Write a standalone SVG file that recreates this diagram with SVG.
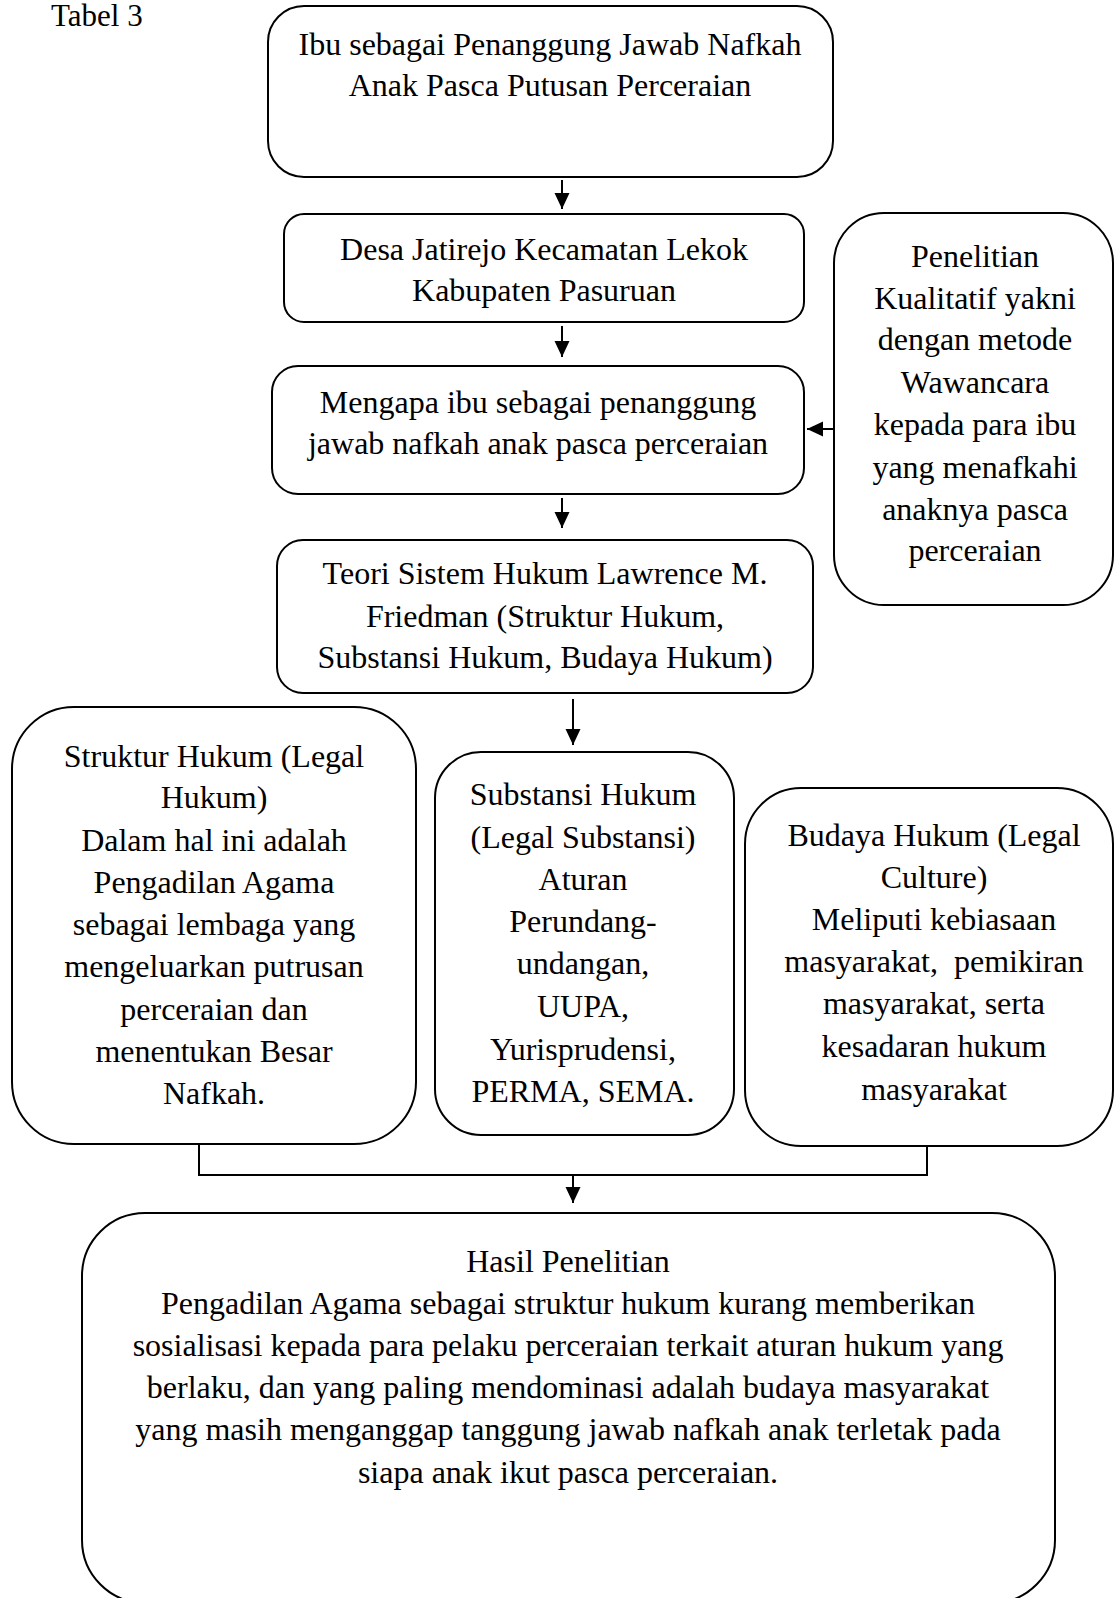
<svg xmlns="http://www.w3.org/2000/svg" width="1115" height="1598" viewBox="0 0 1115 1598">
<style>
.box{fill:#fff;stroke:#000;stroke-width:2}
.t{font-family:"Liberation Serif","Times New Roman",serif;font-size:32px;fill:#000;text-anchor:middle}
.conn{fill:none;stroke:#000;stroke-width:2}
</style>
<defs>
<marker id="ah" markerUnits="userSpaceOnUse" markerWidth="18" markerHeight="18" viewBox="0 0 18 18" refX="16" refY="9" orient="auto">
<path d="M0,1.5 L16,9 L0,16.5 Z" fill="#000"/>
</marker>
</defs>
<rect width="1115" height="1598" fill="#fff"/>
<text x="51" y="26" class="t" style="text-anchor:start;font-size:31px">Tabel 3</text>

<g id="n1">
<rect class="box" x="268" y="6" width="565" height="171" rx="36"/>
<text class="t" x="550" y="55">Ibu sebagai Penanggung Jawab Nafkah</text>
<text class="t" x="550" y="96">Anak Pasca Putusan Perceraian</text>
</g>
<g id="n2">
<rect class="box" x="284" y="214" width="520" height="108" rx="20"/>
<text class="t" x="544" y="260">Desa Jatirejo Kecamatan Lekok</text>
<text class="t" x="544" y="301">Kabupaten Pasuruan</text>
</g>
<g id="n3">
<rect class="box" x="272" y="366" width="532" height="128" rx="26"/>
<text class="t" x="538" y="413">Mengapa ibu sebagai penanggung</text>
<text class="t" x="538" y="454">jawab nafkah anak pasca perceraian</text>
</g>
<g id="n_pen">
<rect class="box" x="834" y="213" width="279" height="392" rx="50"/>
<text class="t" x="975" y="267">Penelitian</text>
<text class="t" x="975" y="309">Kualitatif yakni</text>
<text class="t" x="975" y="350">dengan metode</text>
<text class="t" x="975" y="393">Wawancara</text>
<text class="t" x="975" y="435">kepada para ibu</text>
<text class="t" x="975" y="478">yang menafkahi</text>
<text class="t" x="975" y="520">anaknya pasca</text>
<text class="t" x="975" y="561">perceraian</text>
</g>
<g id="n4">
<rect class="box" x="277" y="540" width="536" height="153" rx="26"/>
<text class="t" x="545" y="584">Teori Sistem Hukum Lawrence M.</text>
<text class="t" x="545" y="627">Friedman (Struktur Hukum,</text>
<text class="t" x="545" y="668">Substansi Hukum, Budaya Hukum)</text>
</g>
<g id="n_struktur">
<rect class="box" x="12" y="707" width="404" height="437" rx="62"/>
<text class="t" x="214" y="767">Struktur Hukum (Legal</text>
<text class="t" x="214" y="808">Hukum)</text>
<text class="t" x="214" y="851">Dalam hal ini adalah</text>
<text class="t" x="214" y="893">Pengadilan Agama</text>
<text class="t" x="214" y="935">sebagai lembaga yang</text>
<text class="t" x="214" y="977">mengeluarkan putrusan</text>
<text class="t" x="214" y="1020">perceraian dan</text>
<text class="t" x="214" y="1062">menentukan Besar</text>
<text class="t" x="214" y="1104">Nafkah.</text>
</g>
<g id="n_substansi">
<rect class="box" x="435" y="752" width="299" height="383" rx="46"/>
<text class="t" x="583" y="805">Substansi Hukum</text>
<text class="t" x="583" y="848">(Legal Substansi)</text>
<text class="t" x="583" y="890">Aturan</text>
<text class="t" x="583" y="932">Perundang-</text>
<text class="t" x="583" y="974">undangan,</text>
<text class="t" x="583" y="1017">UUPA,</text>
<text class="t" x="583" y="1060">Yurisprudensi,</text>
<text class="t" x="583" y="1102">PERMA, SEMA.</text>
</g>
<g id="n_budaya">
<rect class="box" x="745" y="788" width="368" height="358" rx="56"/>
<text class="t" x="934" y="846">Budaya Hukum (Legal</text>
<text class="t" x="934" y="888">Culture)</text>
<text class="t" x="934" y="930">Meliputi kebiasaan</text>
<text class="t" x="934" y="972">masyarakat,&#160; pemikiran</text>
<text class="t" x="934" y="1014">masyarakat, serta</text>
<text class="t" x="934" y="1057">kesadaran hukum</text>
<text class="t" x="934" y="1100">masyarakat</text>
</g>
<g id="n_hasil">
<rect class="box" x="82" y="1213" width="973" height="390" rx="63"/>
<text class="t" x="568" y="1272">Hasil Penelitian</text>
<text class="t" x="568" y="1314">Pengadilan Agama sebagai struktur hukum kurang memberikan</text>
<text class="t" x="568" y="1356">sosialisasi kepada para pelaku perceraian terkait aturan hukum yang</text>
<text class="t" x="568" y="1398">berlaku, dan yang paling mendominasi adalah budaya masyarakat</text>
<text class="t" x="568" y="1440">yang masih menganggap tanggung jawab nafkah anak terletak pada</text>
<text class="t" x="568" y="1483">siapa anak ikut pasca perceraian.</text>
</g>

<g id="connectors">
<line class="conn" x1="562" y1="180" x2="562" y2="209" marker-end="url(#ah)"/>
<line class="conn" x1="562" y1="326" x2="562" y2="357" marker-end="url(#ah)"/>
<line class="conn" x1="833" y1="429" x2="807" y2="429" marker-end="url(#ah)"/>
<line class="conn" x1="562" y1="498" x2="562" y2="528" marker-end="url(#ah)"/>
<line class="conn" x1="573" y1="699" x2="573" y2="745" marker-end="url(#ah)"/>
<polyline class="conn" points="199,1144 199,1175 927,1175 927,1146"/>
<line class="conn" x1="573" y1="1175" x2="573" y2="1203" marker-end="url(#ah)"/>
</g>
</svg>
